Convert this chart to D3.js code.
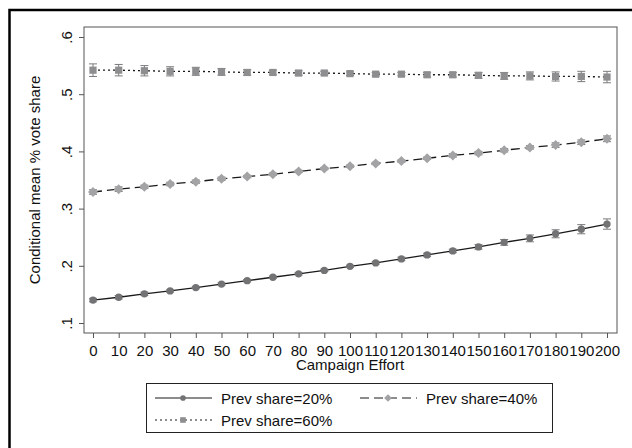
<!DOCTYPE html>
<html>
<head>
<meta charset="utf-8">
<script src="https://cdn.jsdelivr.net/npm/d3@7"></script>
<style>
  body { margin: 0; background: #fff; }
  svg { font-family: "Liberation Sans", Arial, sans-serif; }
</style>
</head>
<body>
<svg id="chart" width="632" height="448"></svg>
<script>
const effort = d3.range(0, 201, 10);
const share20 = [0.140, 0.145, 0.151, 0.156, 0.162, 0.168, 0.174, 0.180, 0.186, 0.192, 0.199,
                 0.205, 0.212, 0.219, 0.226, 0.233, 0.241, 0.248, 0.256, 0.264, 0.273];
const share40 = [0.329, 0.334, 0.338, 0.343, 0.347, 0.352, 0.356, 0.360, 0.365, 0.370, 0.374,
                 0.379, 0.383, 0.388, 0.393, 0.397, 0.402, 0.407, 0.411, 0.416, 0.422];
const share60 = [0.542, 0.542, 0.541, 0.540, 0.540, 0.539, 0.538, 0.538, 0.537, 0.537, 0.536,
                 0.535, 0.535, 0.534, 0.534, 0.533, 0.532, 0.532, 0.531, 0.531, 0.530];
const ci20 = [0.003, 0.003, 0.003, 0.002, 0.002, 0.002, 0.002, 0.002, 0.002, 0.002, 0.002,
              0.002, 0.003, 0.003, 0.003, 0.004, 0.005, 0.006, 0.007, 0.008, 0.009];
const ci40 = [0.004, 0.004, 0.003, 0.003, 0.003, 0.003, 0.002, 0.002, 0.002, 0.002, 0.002,
              0.002, 0.002, 0.002, 0.003, 0.003, 0.003, 0.003, 0.004, 0.004, 0.005];
const ci60 = [0.011, 0.010, 0.009, 0.008, 0.007, 0.006, 0.005, 0.004, 0.004, 0.003, 0.003,
              0.003, 0.003, 0.004, 0.004, 0.005, 0.006, 0.007, 0.008, 0.009, 0.010];
const yTicks = [0.1, 0.2, 0.3, 0.4, 0.5, 0.6];

const series = [
  { name: "Prev share=20%", values: share20, ci: ci20, shape: d3.symbolCircle, size: 42, rot: 0, fill: "#737375", dash: null },
  { name: "Prev share=40%", values: share40, ci: ci40, shape: d3.symbolSquare, size: 50, rot: 45, fill: "#a3a3a5", dash: "9,5" },
  { name: "Prev share=60%", values: share60, ci: ci60, shape: d3.symbolSquare, size: 52, rot: 0, fill: "#8e8e90", dash: "2,3" }
];

const fontSize = "15px";
const svg = d3.select("#chart");

// outer frame (cut off at right and bottom, as in the original)
svg.append("rect")
  .attr("x", 9.5).attr("y", 10).attr("width", 640).attr("height", 460)
  .attr("fill", "none").attr("stroke", "#000").attr("stroke-width", 2.5);

const plot = { left: 84, right: 617, top: 27, bottom: 333 };

const x = d3.scaleLinear().domain([0, 200]).range([93, 607]);
const y = d3.scaleLinear().domain([0.1, 0.6]).range([323, 37]);

// plot region outline
svg.append("rect")
  .attr("x", plot.left).attr("y", plot.top)
  .attr("width", plot.right - plot.left).attr("height", plot.bottom - plot.top)
  .attr("fill", "none").attr("stroke", "#555").attr("stroke-width", 1);

const xAxis = svg.append("g")
  .attr("transform", `translate(0,${plot.bottom})`)
  .call(d3.axisBottom(x).tickValues(effort).tickSize(5).tickPadding(7).tickFormat(d3.format("d")));
xAxis.select(".domain").remove();
xAxis.selectAll("line").attr("stroke", "#555");
xAxis.selectAll("text").style("font-size", fontSize).attr("fill", "#111");

const yAxis = svg.append("g")
  .attr("transform", `translate(${plot.left},0)`)
  .call(d3.axisLeft(y).tickValues(yTicks).tickSize(5).tickFormat(d => d3.format(".1f")(d).replace(/^0/, "")));
yAxis.select(".domain").remove();
yAxis.selectAll("line").attr("stroke", "#555");
yAxis.selectAll("text")
  .attr("x", null).attr("dy", null)
  .attr("text-anchor", "middle")
  .attr("transform", "translate(-12,0) rotate(-90)")
  .style("font-size", fontSize).attr("fill", "#111");

svg.append("text")
  .attr("x", x(100)).attr("y", 370)
  .attr("text-anchor", "middle")
  .style("font-size", fontSize).attr("fill", "#111")
  .text("Campaign Effort");

svg.append("text")
  .attr("transform", `translate(40,${(plot.top + plot.bottom) / 2}) rotate(-90)`)
  .attr("text-anchor", "middle")
  .style("font-size", fontSize).attr("fill", "#111")
  .text("Conditional mean % vote share");

const line = d3.line().x((d, i) => x(effort[i])).y(d => y(d));

series.forEach(s => {
  svg.append("path")
    .attr("d", line(s.values))
    .attr("fill", "none").attr("stroke", "#1a1a1a").attr("stroke-width", 1.3)
    .attr("stroke-dasharray", s.dash);

  const eb = svg.append("g").attr("stroke", "#7a7a7c").attr("stroke-width", 1);
  s.values.forEach((v, i) => {
    const cx = x(effort[i]);
    const y1 = y(v + s.ci[i]), y2 = y(v - s.ci[i]);
    eb.append("line").attr("x1", cx).attr("x2", cx).attr("y1", y1).attr("y2", y2);
    eb.append("line").attr("x1", cx - 4).attr("x2", cx + 4).attr("y1", y1).attr("y2", y1);
    eb.append("line").attr("x1", cx - 4).attr("x2", cx + 4).attr("y1", y2).attr("y2", y2);
  });

  svg.append("g").selectAll("path")
    .data(s.values)
    .join("path")
    .attr("d", d3.symbol(s.shape, s.size))
    .attr("transform", (d, i) => `translate(${x(effort[i])},${y(d)}) rotate(${s.rot})`)
    .attr("fill", s.fill);
});

// legend
const lg = svg.append("g");
lg.append("rect")
  .attr("x", 146.5).attr("y", 383.5).attr("width", 406).attr("height", 49)
  .attr("fill", "#fff").attr("stroke", "#222").attr("stroke-width", 1);

const legendPos = [
  { lx: 155, ty: 398 },
  { lx: 360, ty: 398 },
  { lx: 155, ty: 420 }
];
series.forEach((s, i) => {
  const p = legendPos[i];
  lg.append("line")
    .attr("x1", p.lx).attr("x2", p.lx + 57).attr("y1", p.ty).attr("y2", p.ty)
    .attr("stroke", "#1a1a1a").attr("stroke-width", 1.2)
    .attr("stroke-dasharray", s.dash);
  lg.append("path")
    .attr("d", d3.symbol(s.shape, s.size * 0.6))
    .attr("transform", `translate(${p.lx + 28},${p.ty}) rotate(${s.rot})`)
    .attr("fill", s.fill);
  lg.append("text")
    .attr("x", p.lx + 66).attr("y", p.ty + 5.5)
    .style("font-size", fontSize).attr("fill", "#111")
    .text(s.name);
});
</script>
</body>
</html>
